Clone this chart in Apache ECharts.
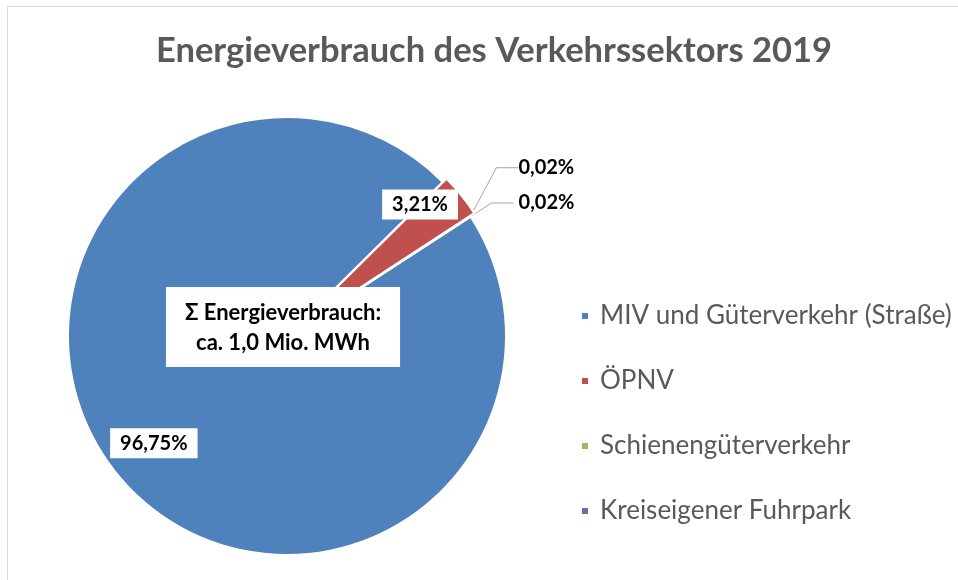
<!DOCTYPE html>
<html>
	<head>
		<meta charset="utf-8">
		<style>
			html, body { margin: 0; padding: 0; background: #fff; }
			#chart { width: 958px; height: 580px; }
		</style>
	</head>
	<body>
		<div id="chart"></div>
	</body>
	<script src="https://cdn.jsdelivr.net/npm/echarts@6/dist/echarts.min.js"></script>
	<script type="text/javascript">
		// Anteile am Energieverbrauch (Prozent)
		var categories = ['MIV und Güterverkehr (Straße)', 'ÖPNV', 'Schienengüterverkehr', 'Kreiseigener Fuhrpark'];
		var shares = [96.75, 3.21, 0.02, 0.02];
		var colors = ['#4f81bd', '#c0504d', '#9bbb59', '#8064a2'];
		var totalText = ['Σ Energieverbrauch:', 'ca. 1,0 Mio. MWh'];

		var chart = echarts.init(document.getElementById('chart'));
		var font = 'Lato, "Open Sans", sans-serif';

		function pct(v) {
			return v.toFixed(2).replace('.', ',') + '%';
		}

		var boxLabel = {
			fontFamily: font,
			fontWeight: 'bold',
			fontSize: 20,
			color: '#000',
			backgroundColor: '#fff',
			padding: [6, 10, 4, 10]
		};

		// Tortenstuecke
		var pieData = [];
		for (var i = 0; i < categories.length; i++) {
			var item = {
				name: categories[i],
				value: shares[i],
				itemStyle: { color: colors[i] }
			};
			if (i === 1) {
				item.selected = true;
			}
			if (i >= 2) {
				item.label = { show: true };
				item.labelLine = { show: true, length: 25, length2: 22 };
			}
			pieData.push(item);
		}

		// nur Beschriftungen (innen) fuer die grossen Stuecke
		var labelData = [];
		for (var j = 0; j < categories.length; j++) {
			labelData.push({
				name: categories[j],
				value: shares[j],
				label: {
					show: j < 2,
					offset: j === 1 ? [0, -24] : [0, 0]
				}
			});
		}

		var option = {
			animation: false,
			color: colors,
			title: {
				text: 'Energieverbrauch des Verkehrssektors 2019',
				left: 489,
				top: 28,
				textAlign: 'center',
				textStyle: {
					fontFamily: font,
					fontWeight: 'bold',
					fontSize: 34.5,
					color: '#595959'
				}
			},
			legend: {
				orient: 'vertical',
				left: 575,
				top: 298,
				itemWidth: 8,
				itemHeight: 8,
				itemGap: 39,
				icon: 'rect',
				data: categories,
				textStyle: {
					fontFamily: font,
					fontSize: 26,
					color: '#595959',
					padding: [0, 0, 0, 6]
				}
			},
			graphic: [{
				type: 'rect',
				shape: { x: 7.5, y: 6.5, width: 1000, height: 1000 },
				style: { fill: 'none', stroke: '#d9d9d9', lineWidth: 1 },
				silent: true
			}, {
				type: 'text',
				x: 283,
				y: 287,
				z: 10,
				silent: true,
				style: {
					text: totalText.join('\n'),
					align: 'center',
					verticalAlign: 'top',
					font: 'bold 22px ' + font,
					lineHeight: 30,
					fill: '#000',
					backgroundColor: '#fff',
					padding: [11, 19, 9, 19]
				}
			}],
			series: [{
				type: 'pie',
				center: [287, 336],
				radius: 219,
				startAngle: 33,
				clockwise: true,
				selectedMode: 'single',
				selectedOffset: 5,
				avoidLabelOverlap: false,
				itemStyle: { borderColor: '#fff', borderWidth: 2 },
				label: {
					show: false,
					position: 'outside',
					formatter: function (p) { return pct(p.value); },
					fontFamily: font,
					fontWeight: 'bold',
					fontSize: 20,
					color: '#000'
				},
				labelLine: {
					show: false,
					lineStyle: { color: '#a6a6a6', width: 1 }
				},
				// obere 0,02%-Beschriftung nach oben schieben
				labelLayout: function (params) {
					if (params.dataIndex === 2) {
						return { y: params.labelRect.y + params.labelRect.height / 2 - 35 };
					}
				},
				emphasis: { disabled: true },
				z: 2,
				data: pieData
			}, {
				type: 'pie',
				center: [287, 336],
				radius: 336,
				startAngle: 33,
				clockwise: true,
				silent: true,
				itemStyle: { color: 'rgba(0,0,0,0)', borderWidth: 0 },
				label: Object.assign({
					position: 'inside',
					formatter: function (p) { return pct(p.value); }
				}, boxLabel),
				labelLine: { show: false },
				emphasis: { disabled: true },
				z: 3,
				data: labelData
			}]
		};

		chart.setOption(option);
	</script>
</html>
